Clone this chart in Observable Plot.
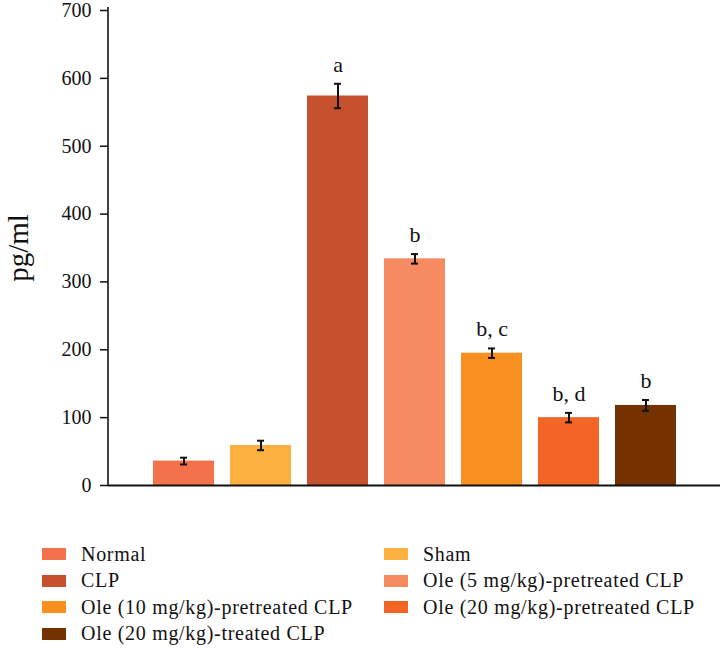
<!DOCTYPE html>
<html>
<head>
<meta charset="utf-8">
<script src="https://cdn.jsdelivr.net/npm/d3@7"></script>
<script src="https://cdn.jsdelivr.net/npm/@observablehq/plot@0.6"></script>
<style>
  body { margin: 0; background: #fff; font-family: "Liberation Serif", serif; }
  #wrap { position: relative; width: 722px; height: 650px; }
  #legend { position: absolute; left: 42px; top: 541px; display: grid;
            grid-template-columns: 342px 300px; grid-auto-rows: 26.5px; }
  .item { display: flex; align-items: center; font-size: 20px; letter-spacing: 0.7px; color: #111; white-space: nowrap; }
  .sw { width: 24px; height: 12px; margin-right: 15px; flex: none; }
  #chart svg, #chart svg text { font-family: "Liberation Serif", serif !important; }
</style>
</head>
<body>
<div id="wrap"><div id="chart"></div><div id="legend"></div></div>
<script>
const groups = ["Normal", "Sham", "CLP", "Ole (5 mg/kg)-pretreated CLP",
  "Ole (10 mg/kg)-pretreated CLP", "Ole (20 mg/kg)-pretreated CLP", "Ole (20 mg/kg)-treated CLP"];
const values = [36, 59, 574, 334, 195, 100, 118];
const errors = [5, 7, 18, 7, 7, 7, 8];
const letters = ["", "", "a", "b", "b, c", "b, d", "b"];
const colors = ["#F4724B", "#FBB040", "#C5512F", "#F68B62", "#F7901E", "#F26524", "#743200"];
const yTicks = [0, 100, 200, 300, 400, 500, 600, 700];
const yLabel = "pg/ml";

const data = groups.map((g, i) => ({group: g, value: values[i], err: errors[i], letter: letters[i]}));

// vertical axis line drawn through the y scale
function yAxisLine(index, scales, values, dims) {
  const ns = "http://www.w3.org/2000/svg";
  const line = document.createElementNS(ns, "line");
  const x = dims.marginLeft;
  line.setAttribute("x1", x); line.setAttribute("x2", x);
  line.setAttribute("y1", scales.y(700) - 3); line.setAttribute("y2", scales.y(0));
  line.setAttribute("stroke", "#111"); line.setAttribute("stroke-width", 1.6);
  return line;
}

const chart = Plot.plot({
  width: 722,
  height: 510,
  marginLeft: 108,
  marginRight: 2,
  marginTop: 10,
  marginBottom: 25,
  style: {fontFamily: "'Liberation Serif', serif", background: "#fff"},
  x: {domain: groups, paddingInner: 0.213, paddingOuter: 0.556, axis: null},
  y: {domain: [0, 700], axis: null},
  color: {domain: groups, range: colors},
  marks: [
    Plot.barY(data, {x: "group", y: "value", fill: "group"}),
    Plot.ruleX(data, {x: "group", y1: d => d.value - d.err, y2: d => d.value + d.err, stroke: "#111", strokeWidth: 2}),
    Plot.tickY(data, {x: "group", y: d => d.value - d.err, stroke: "#111", strokeWidth: 2, insetLeft: 27, insetRight: 27}),
    Plot.tickY(data, {x: "group", y: d => d.value + d.err, stroke: "#111", strokeWidth: 2, insetLeft: 27, insetRight: 27}),
    Plot.text(data, {x: "group", y: d => d.value + d.err, text: "letter", dy: -12, lineAnchor: "bottom", fontSize: 22, fill: "#111"}),
    Plot.axisY({ticks: yTicks, tickSize: 8, tickPadding: 9, fontSize: 20, tickFormat: d3.format("d"), label: null, stroke: "#111", strokeWidth: 1.5, fill: "#111"}),
    yAxisLine,
    Plot.ruleY([0], {stroke: "#111", strokeWidth: 2}),
    Plot.text([yLabel], {frameAnchor: "left", textAnchor: "middle", dx: -90, rotate: -90, fontSize: 29, fill: "#111"})
  ]
});
document.getElementById("chart").appendChild(chart);

const legend = document.getElementById("legend");
groups.forEach((g, i) => {
  const it = document.createElement("div");
  it.className = "item";
  const sw = document.createElement("span");
  sw.className = "sw";
  sw.style.background = colors[i];
  it.appendChild(sw);
  it.appendChild(document.createTextNode(g));
  legend.appendChild(it);
});
</script>
</body>
</html>
